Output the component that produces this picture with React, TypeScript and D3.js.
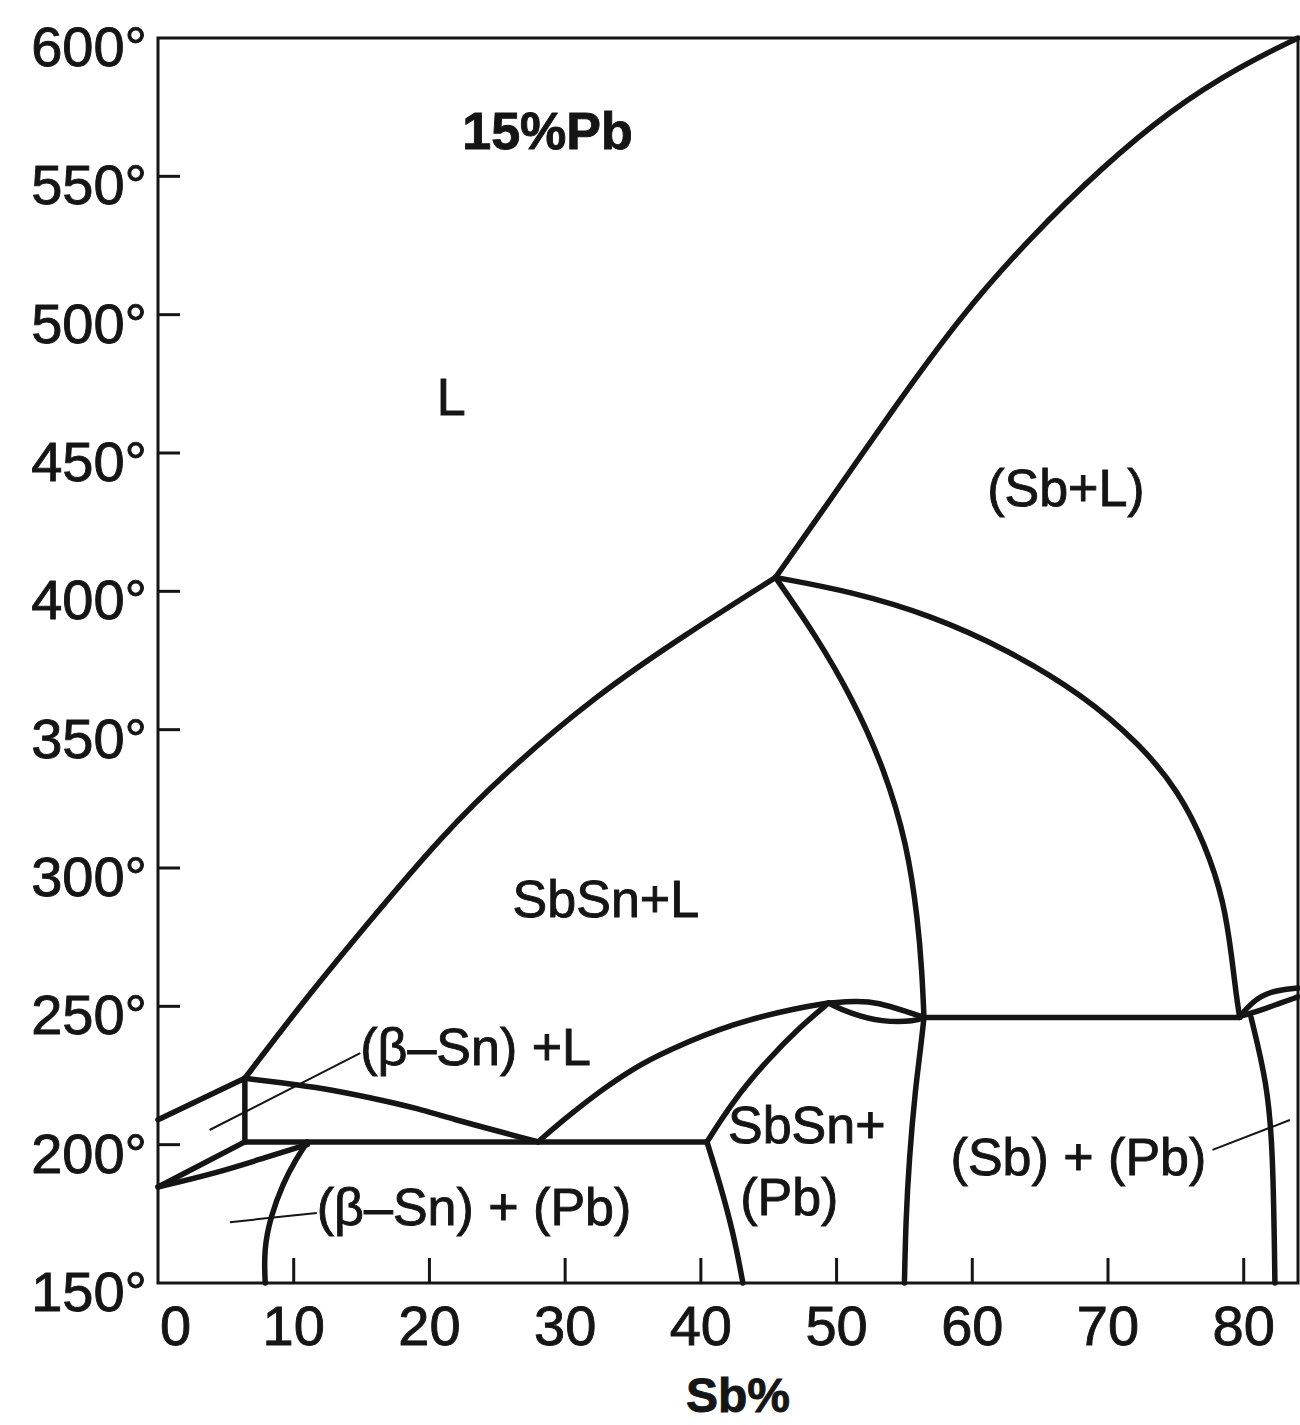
import React, { useEffect, useRef } from "react";
import * as d3 from "d3";

type Pt = [number, number];

// phase boundaries, each point is [Sb %, temperature °C]
const sbLiquidus: Pt[] = [[45.5, 405], [50.1, 437], [53.9, 464], [59.2, 500], [64.3, 528], [69.5, 553], [74.6, 574], [79.8, 590], [84, 600]];
const sbSnLiquidus: Pt[] = [[6.4, 224], [10.9, 253], [15.8, 282], [20.8, 311], [25.7, 335], [32.3, 362.5], [38.9, 384.5], [45.5, 405]];
const snLiquidusLeft: Pt[] = [[0, 209], [6.4, 224]];
const snSolidusLeft: Pt[] = [[0, 184.7], [6.4, 201]];
const leftVertical: Pt[] = [[6.4, 224], [6.4, 201]];
const leftLens: Pt[] = [[0, 184.7], [4.35, 189.8], [8.0, 195.5], [11.0, 200]];
const eutecticLine: Pt[] = [[6.4, 201], [40.45, 201]];
const snSolvus: Pt[] = [[11.0, 201], [10.2, 195], [9.2, 186], [8.3, 174], [7.8, 162], [7.9, 150]];
const betaSnLiquidus: Pt[] = [[6.4, 224], [10.5, 221.5], [12.6, 220], [16.6, 216], [19.2, 213], [21.5, 209.5], [26.5, 203], [28, 201]];
const sbSnLiquidusLow: Pt[] = [[28, 201], [30, 209.5], [32.6, 219.5], [35, 227.5], [37.5, 234], [42.4, 244], [47.3, 249.6], [49.4, 251.2]];
const lensUpper: Pt[] = [[49.4, 251.2], [51.5, 252], [53.05, 251.4], [55.2, 248], [56.44, 246]];
const lensLower: Pt[] = [[49.4, 251.2], [50.9, 247.6], [53.35, 244.2], [55.85, 244.6], [56.44, 246]];
const sbSnPbUpper: Pt[] = [[40.45, 201], [42.4, 216], [44.9, 230.6], [47.3, 242.5], [49.4, 251.2]];
const sbSnPbLower: Pt[] = [[40.45, 201], [41.4, 186], [42.4, 168], [43.1, 150]];
const sbSnSolvusUpper: Pt[] = [[45.5, 405], [48.4, 384.6], [51.2, 361.1], [53.5, 336.1], [55.2, 308.7], [56.0, 280.8], [56.3, 262], [56.44, 246]];
const sbSnSolvusLower: Pt[] = [[56.44, 246], [56.2, 235], [55.8, 220], [55.35, 195], [55.1, 172], [55.0, 150]];
const sbArc: Pt[] = [[45.5, 405], [51.2, 399.8], [56.9, 391.4], [62.5, 379.2], [68.2, 362.5], [72.4, 344.5], [75.2, 327.8], [77.15, 308.7], [78.55, 288.1], [79.15, 266.7], [79.45, 254], [79.7, 246]];
const peritecticLine: Pt[] = [[56.44, 246], [79.7, 246]];
const sbLensUpper: Pt[] = [[79.7, 246.3], [80.6, 251.5], [81.9, 255.5], [84, 256.6]];
const sbLensLower: Pt[] = [[79.7, 246.3], [81.35, 248.7], [82.7, 251.2], [84, 253.4]];
const sbPbSolvus: Pt[] = [[80.54, 246], [81.72, 222.3], [82.16, 198.1], [82.3, 150]];

const boundaries: Pt[][] = [
  sbLiquidus, sbSnLiquidus, snLiquidusLeft, snSolidusLeft, leftVertical, leftLens,
  eutecticLine, snSolvus, betaSnLiquidus, sbSnLiquidusLow, lensUpper, lensLower,
  sbSnPbUpper, sbSnPbLower, sbSnSolvusUpper, sbSnSolvusLower, sbArc, peritecticLine,
  sbLensUpper, sbLensLower, sbPbSolvus,
];

// thin pointer lines from labels to narrow fields
const leaders: Pt[][] = [
  [[14.9, 233.1], [3.8, 205.3]],
  [[11.7, 175.3], [5.3, 172.0]],
  [[77.7, 198.1], [83.4, 208.9]],
];

const regionLabels = [
  { text: "15%Pb", sb: 28.7, t: 560, anchor: "middle", bold: true },
  { text: "L", sb: 21.6, t: 463.7, anchor: "middle", bold: false },
  { text: "(Sb+L)", sb: 66.9, t: 431, anchor: "middle", bold: false },
  { text: "SbSn+L", sb: 33.0, t: 282.3, anchor: "middle", bold: false },
  { text: "(β–Sn) +L", sb: 14.9, t: 228.8, anchor: "start", bold: false },
  { text: "SbSn+", sb: 42.0, t: 200.6, anchor: "start", bold: false },
  { text: "(Pb)", sb: 42.9, t: 174.6, anchor: "start", bold: false },
  { text: "(β–Sn) + (Pb)", sb: 11.7, t: 171, anchor: "start", bold: false },
  { text: "(Sb) + (Pb)", sb: 58.4, t: 189, anchor: "start", bold: false },
];

const tempTicks = [200, 250, 300, 350, 400, 450, 500, 550];
const tempLabels = [150, 200, 250, 300, 350, 400, 450, 500, 550, 600];
const sbTicks = [10, 20, 30, 40, 50, 60, 70, 80];
const sbLabels = [0, 10, 20, 30, 40, 50, 60, 70, 80];

const W = 1300;
const H = 1425;
const FONT = "'Liberation Sans', Arial, sans-serif";
const INK = "#151515";

const App = () => {
  const ref = useRef<SVGSVGElement>(null);

  useEffect(() => {
    if (!ref.current) return;
    const svg = d3.select(ref.current);
    svg.selectAll("*").remove();

    const x = d3.scaleLinear().domain([0, 84]).range([158, 1298]);
    const y = d3.scaleLinear().domain([150, 600]).range([1283, 38]);

    svg.append("rect").attr("width", W).attr("height", H).attr("fill", "#fff");

    // frame
    svg
      .append("rect")
      .attr("x", x(0))
      .attr("y", y(600))
      .attr("width", x(84) - x(0))
      .attr("height", y(150) - y(600))
      .attr("fill", "none")
      .attr("stroke", INK)
      .attr("stroke-width", 3);

    // inner ticks
    svg
      .selectAll(".ytick")
      .data(tempTicks)
      .enter()
      .append("line")
      .attr("x1", x(0))
      .attr("x2", x(0) + 22)
      .attr("y1", (d) => y(d))
      .attr("y2", (d) => y(d))
      .attr("stroke", INK)
      .attr("stroke-width", 3);

    svg
      .selectAll(".xtick")
      .data(sbTicks)
      .enter()
      .append("line")
      .attr("x1", (d) => x(d))
      .attr("x2", (d) => x(d))
      .attr("y1", y(150))
      .attr("y2", y(150) - 25)
      .attr("stroke", INK)
      .attr("stroke-width", 3);

    const txt = (sel: any, size: number) =>
      sel
        .attr("font-family", FONT)
        .attr("font-size", size)
        .attr("fill", INK)
        .attr("stroke", INK)
        .attr("stroke-width", 0.9);

    // tick labels
    txt(
      svg
        .selectAll(".ylab")
        .data(tempLabels)
        .enter()
        .append("text")
        .attr("x", 147)
        .attr("y", (d) => y(d) + 28)
        .attr("text-anchor", "end"),
      56
    ).text((d: number) => `${d}°`);

    txt(
      svg
        .selectAll(".xlab")
        .data(sbLabels)
        .enter()
        .append("text")
        .attr("x", (d) => (d === 0 ? x(0) + 2 : x(d)))
        .attr("y", 1345)
        .attr("text-anchor", (d) => (d === 0 ? "start" : "middle")),
      56
    ).text((d: number) => d);

    txt(
      svg
        .append("text")
        .attr("x", 738)
        .attr("y", 1412)
        .attr("text-anchor", "middle")
        .attr("font-weight", "bold"),
      48
    ).text("Sb%");

    // phase boundaries
    const line = d3
      .line<Pt>()
      .x((d) => x(d[0]))
      .y((d) => y(d[1]))
      .curve(d3.curveBasis);

    svg
      .selectAll(".boundary")
      .data(boundaries)
      .enter()
      .append("path")
      .attr("d", (d) => line(d))
      .attr("fill", "none")
      .attr("stroke", INK)
      .attr("stroke-width", 5.5)
      .attr("stroke-linejoin", "round")
      .attr("stroke-linecap", "round");

    svg
      .selectAll(".leader")
      .data(leaders)
      .enter()
      .append("path")
      .attr("d", (d) => line(d))
      .attr("fill", "none")
      .attr("stroke", INK)
      .attr("stroke-width", 2);

    // field labels
    txt(
      svg
        .selectAll(".region")
        .data(regionLabels)
        .enter()
        .append("text")
        .attr("x", (d) => x(d.sb))
        .attr("y", (d) => y(d.t))
        .attr("text-anchor", (d) => d.anchor)
        .attr("font-weight", (d) => (d.bold ? "bold" : "normal")),
      52
    )
      .attr("font-size", (d: any) => (d.bold ? 52 : 52))
      .text((d: any) => d.text);
  }, []);

  return (
    <svg
      ref={ref}
      width={W}
      height={H}
      style={{ position: "absolute", left: 0, top: 0, display: "block" }}
    />
  );
};

export default App;
